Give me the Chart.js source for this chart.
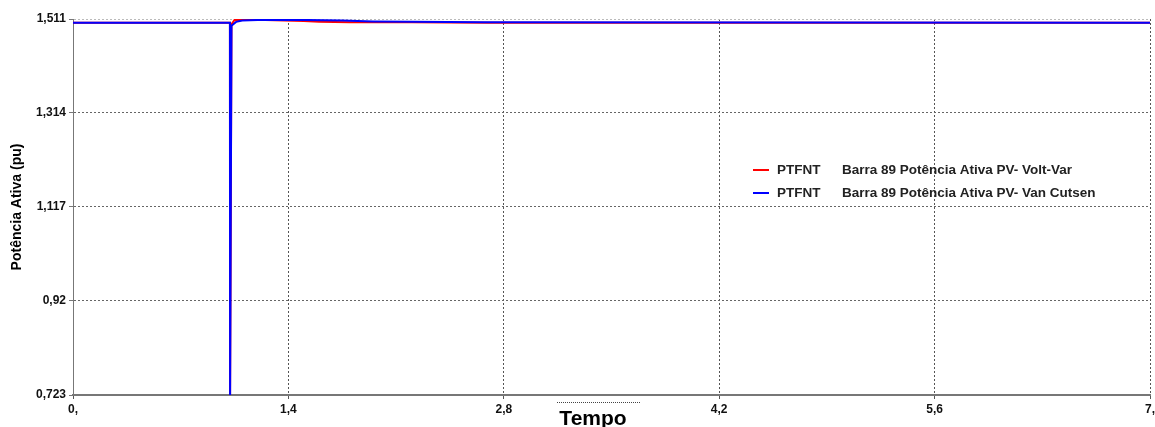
<!DOCTYPE html>
<html>
<head>
<meta charset="utf-8">
<script src="https://cdn.jsdelivr.net/npm/chart.js@4.4.1/dist/chart.umd.min.js"></script>
<style>
  html, body { margin: 0; padding: 0; background: #fff; }
  #box { width: 1155px; height: 427px; position: relative; }
</style>
</head>
<body>
<div id="box"><canvas id="grafico"></canvas></div>
<script>
// dados
const tempoVanCutsen = [0, 1.02, 1.021, 1.03, 1.06, 1.1, 1.2, 1.5, 1.75, 1.95, 2.2, 2.67, 7];
const potVanCutsen   = [1.503, 1.503, 0.723, 1.497, 1.505, 1.508, 1.509, 1.509, 1.508, 1.506, 1.505, 1.504, 1.503];

const tempoVoltVar = [0, 1.02, 1.021, 1.03, 1.05, 1.25, 1.5, 1.6, 1.8, 2.2, 2.7, 7];
const potVoltVar   = [1.503, 1.503, 0.723, 1.5, 1.509, 1.509, 1.507, 1.505, 1.504, 1.504, 1.503, 1.503];

const ticksX = [0, 1.4, 2.8, 4.2, 5.6, 7];
const rotulosX = ["0,", "1,4", "2,8", "4,2", "5,6", "7,"];
const ticksY = [0.723, 0.92, 1.117, 1.314, 1.511];
const rotulosY = ["0,723", "0,92", "1,117", "1,314", "1,511"];

const legendas = [
  { cor: "#ff0000", texto: "Barra 89 Potência Ativa PV- Volt-Var" },
  { cor: "#0000ff", texto: "Barra 89 Potência Ativa PV- Van Cutsen" }
];

const pontos = (xs, ys) => xs.map((x, i) => ({ x: x, y: ys[i] }));

// legenda e título "Tempo" desenhados à mão
const extras = {
  id: "extras",
  afterDraw(chart) {
    const ctx = chart.ctx;
    ctx.save();
    legendas.forEach((l, i) => {
      const y = 170 + i * 23;
      ctx.strokeStyle = l.cor;
      ctx.lineWidth = 2;
      ctx.beginPath();
      ctx.moveTo(753, y);
      ctx.lineTo(769, y);
      ctx.stroke();
      ctx.fillStyle = "#222";
      ctx.font = "bold 13.5px Arial, 'Liberation Sans'";
      ctx.textBaseline = "middle";
      ctx.fillText("PTFNT", 777, y);
      ctx.fillText(l.texto, 842, y);
    });
    ctx.strokeStyle = "#444";
    ctx.lineWidth = 1;
    ctx.setLineDash([1, 1]);
    ctx.beginPath();
    ctx.moveTo(557, 402.5);
    ctx.lineTo(640, 402.5);
    ctx.stroke();
    ctx.setLineDash([]);
    ctx.fillStyle = "#000";
    ctx.font = "bold 21px Arial, 'Liberation Sans'";
    ctx.textAlign = "center";
    ctx.textBaseline = "middle";
    ctx.fillText("Tempo", 593, 419);
    ctx.restore();
  }
};

new Chart(document.getElementById("grafico"), {
  type: "scatter",
  data: {
    datasets: [
      {
        label: "Volt-Var",
        data: pontos(tempoVoltVar, potVoltVar),
        showLine: true,
        borderColor: "#ff0000",
        borderWidth: 2,
        pointRadius: 0,
        order: 1
      },
      {
        label: "Van Cutsen",
        data: pontos(tempoVanCutsen, potVanCutsen),
        showLine: true,
        borderColor: "#0000ff",
        borderWidth: 2,
        pointRadius: 0,
        order: 0
      }
    ]
  },
  options: {
    responsive: true,
    maintainAspectRatio: false,
    animation: false,
    layout: { padding: { top: 19, right: 0, left: 0, bottom: 0 } },
    plugins: {
      legend: { display: false },
      tooltip: { enabled: false }
    },
    scales: {
      x: {
        type: "linear",
        min: 0,
        max: 7,
        afterBuildTicks: s => { s.ticks = ticksX.map(v => ({ value: v })); },
        afterFit: s => { s.height = 32; s.paddingRight = 5; s.paddingLeft = 0; },
        ticks: {
          autoSkip: false,
          maxRotation: 0,
          color: "#111",
          font: { family: "Arial, 'Liberation Sans'", size: 12, weight: "bold" },
          padding: 3,
          callback: (v, i) => rotulosX[i]
        },
        grid: {
          color: "#555",
          tickLength: 4,
          tickColor: "#555"
        },
        border: { display: true, color: "#777", width: 2, dash: [2, 2] }
      },
      y: {
        min: 0.723,
        max: 1.511,
        afterBuildTicks: s => { s.ticks = ticksY.map(v => ({ value: v })); },
        afterFit: s => { s.width = 73; },
        title: {
          display: true,
          text: "Potência Ativa (pu)",
          color: "#000",
          font: { family: "Arial, 'Liberation Sans'", size: 14, weight: "bold" },
          padding: { top: 9, bottom: 0 }
        },
        ticks: {
          color: "#111",
          font: { family: "Arial, 'Liberation Sans'", size: 12, weight: "bold" },
          padding: 3,
          callback: (v, i) => rotulosY[i]
        },
        grid: {
          color: ctx => ctx.index === ticksY.length - 1 ? "#bbb" : "#666",
          tickLength: 4,
          tickColor: "#777"
        },
        border: { display: true, color: "#777", width: 1, dash: [2, 2] }
      }
    }
  },
  plugins: [extras]
});
</script>
</body>
</html>
